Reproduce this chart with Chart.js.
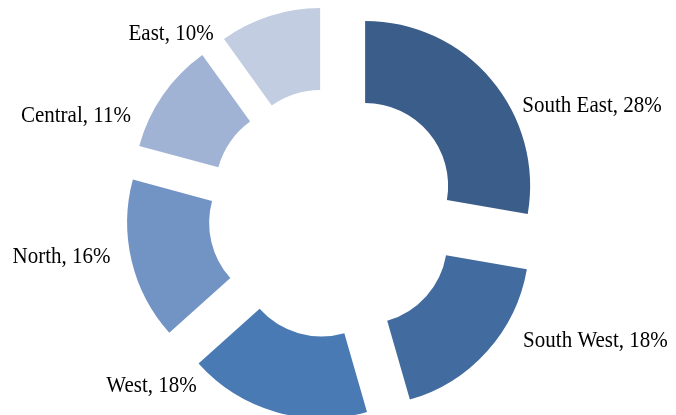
<!DOCTYPE html>
<html>
<head>
<meta charset="utf-8">
<script src="https://cdn.jsdelivr.net/npm/chart.js@4.4.1/dist/chart.umd.min.js"></script>
<style>
    html, body { margin: 0; padding: 0; background: #fff; overflow: hidden; }
    canvas { display: block; }
</style>
</head>
<body>
<canvas id="regionChart" width="676" height="415"></canvas>
<script>
// Share of total by region
const regions = ['South East', 'South West', 'West', 'North', 'Central', 'East'];
const shares = [28, 18, 18, 16, 11, 10];
const sliceColors = ['#3a5d8a', '#426ca0', '#4a7ab4', '#7294c5', '#a1b3d5', '#c2cde2'];

// How far each slice is pulled out from the centre (px)
const explodeGap = 42;

// Label placement, relative to the outer middle of each slice
const labelNudge = [
    [31, 32], [36, -4], [-79, -20], [-21, 2], [-32, 27], [-56, 24]
];

// Draw the arcs ourselves so each one is shifted along its mid angle
const explodePlugin = {
    id: 'explode',
    beforeDatasetDraw(chart, args) {
        const ctx = chart.ctx;
        args.meta.data.forEach(arc => {
            const mid = (arc.startAngle + arc.endAngle) / 2;
            ctx.save();
            ctx.translate(Math.cos(mid) * explodeGap, Math.sin(mid) * explodeGap);
            arc.draw(ctx, chart.chartArea);
            ctx.restore();
        });
        return false;
    }
};

const labelPlugin = {
    id: 'sliceLabels',
    afterDatasetsDraw(chart) {
        const ctx = chart.ctx;
        const meta = chart.getDatasetMeta(0);
        meta.data.forEach((arc, i) => {
            const mid = (arc.startAngle + arc.endAngle) / 2;
            const r = arc.outerRadius + explodeGap;
            const x = arc.x + Math.cos(mid) * r + labelNudge[i][0];
            const y = arc.y + Math.sin(mid) * r + labelNudge[i][1];
            ctx.save();
            ctx.fillStyle = '#000';
            ctx.font = '21px "Liberation Serif", "Times New Roman", serif';
            ctx.textBaseline = 'alphabetic';
            ctx.textAlign = Math.cos(mid) >= 0 ? 'left' : 'right';
            // slightly tall, narrow lettering
            ctx.translate(x, y);
            ctx.scale(1, 1.1);
            ctx.fillText(regions[i] + ', ' + shares[i] + '%', 0, 0);
            ctx.restore();
        });
    }
};

const ctx = document.getElementById('regionChart').getContext('2d');
new Chart(ctx, {
    type: 'doughnut',
    data: {
        labels: regions,
        datasets: [{
            data: shares,
            backgroundColor: sliceColors,
            borderWidth: 0
        }]
    },
    options: {
        responsive: false,
        animation: false,
        devicePixelRatio: 1,
        cutout: '50.3%',
        layout: {
            padding: { left: 165, right: 175, top: 48, bottom: 37 }
        },
        plugins: {
            legend: { display: false },
            tooltip: { enabled: false }
        }
    },
    plugins: [explodePlugin, labelPlugin]
});
</script>
</body>
</html>
